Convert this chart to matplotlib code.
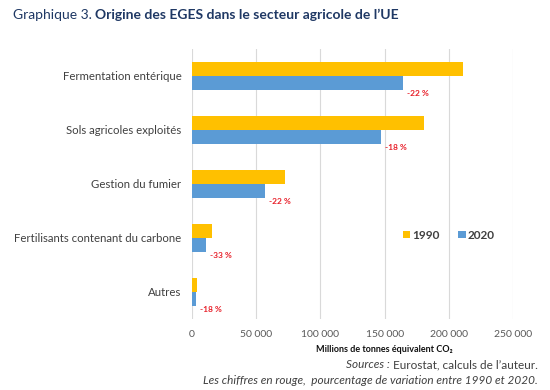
import numpy as np
import matplotlib
matplotlib.use("Agg")
import matplotlib.pyplot as plt

plt.rcParams['font.family'] = ['Lato', 'DejaVu Sans']

# data
categories = ["Fermentation entérique", "Sols agricoles exploités", "Gestion du fumier",
              "Fertilisants contenant du carbone", "Autres"]
v1990 = [211000, 180500, 72700, 15900, 3700]
v2020 = [164000, 147000, 56800, 10700, 3050]
pct_labels = ["-22 %", "-18 %", "-22 %", "-33 %", "-18 %"]
xticks = [0, 50000, 100000, 150000, 200000, 250000]
xtick_labels = ["0", "50 000", "100 000", "150 000", "200 000", "250 000"]

c1990 = "#FFC000"
c2020 = "#5B9BD5"

fig = plt.figure(figsize=(5.5, 3.9), dpi=100)
ax = fig.add_axes([192/550, 1-319/390, 321/550, 270/390])

y = np.arange(len(categories))
h = 0.265
ax.barh(y - h/2, v1990, height=h, color=c1990, label="1990", zorder=3)
ax.barh(y + h/2, v2020, height=h, color=c2020, label="2020", zorder=3)

# red % change labels just below/right of the 2020 bar
for yi, v, t in zip(y, v2020, pct_labels):
    ax.text(v + 3500, yi + 0.33, t, color="#E8202A", fontsize=6, fontweight="bold",
            ha="left", va="center", zorder=4)

ax.set_ylim(len(categories) - 0.5, -0.5)
ax.set_xlim(0, 250000)
ax.set_yticks(y)
ax.set_yticklabels(categories, fontsize=8.2, color="#404040")
ax.set_xticks(xticks)
ax.set_xticklabels(xtick_labels, fontsize=7.5, color="#595959")
ax.tick_params(length=0, pad=8)
ax.tick_params(axis="y", pad=7.5)
ax.grid(axis="x", color="#D9D9D9", linewidth=0.8, zorder=0)
for s in ax.spines.values():
    s.set_visible(False)

ax.set_xlabel("Millions de tonnes équivalent CO₂", fontsize=6.5, fontweight="bold", color="#111111")
ax.xaxis.set_label_coords((384-192)/321, -0.095)

leg = ax.legend(loc="center", bbox_to_anchor=(0.80, 0.311), ncol=2, frameon=False,
                handlelength=0.6, handleheight=0.6, handletextpad=0.2, columnspacing=1.6,
                prop={"size": 8.5, "weight": "bold"})
for t in leg.get_texts():
    t.set_color("#404040")

# title in two parts
r = fig.canvas.get_renderer()
t1 = fig.text(13/550, 1-15/390, "Graphique 3. ", fontsize=10, color="#1F3864", va="center", ha="left")
w = t1.get_window_extent(renderer=r).width
fig.text((13 + w)/550, 1-15/390, "Origine des EGES dans le secteur agricole de l\u2019UE",
         fontsize=10, fontweight="bold", color="#1F3864", va="center", ha="left")

# sources
s1 = fig.text(538/550, 1-365/390, " Eurostat, calculs de l\u2019auteur.", fontsize=8.5,
              color="#404040", ha="right", va="center")
w1 = s1.get_window_extent(renderer=r).width
fig.text((538 - w1)/550, 1-365/390, "Sources :", fontsize=8.5, style="italic",
         color="#404040", ha="right", va="center")
fig.text(538/550, 1-380/390, "Les chiffres en rouge,  pourcentage de variation entre 1990 et 2020.",
         fontsize=8.5, style="italic", color="#404040", ha="right", va="center")

fig.savefig("out.png", dpi=100)
